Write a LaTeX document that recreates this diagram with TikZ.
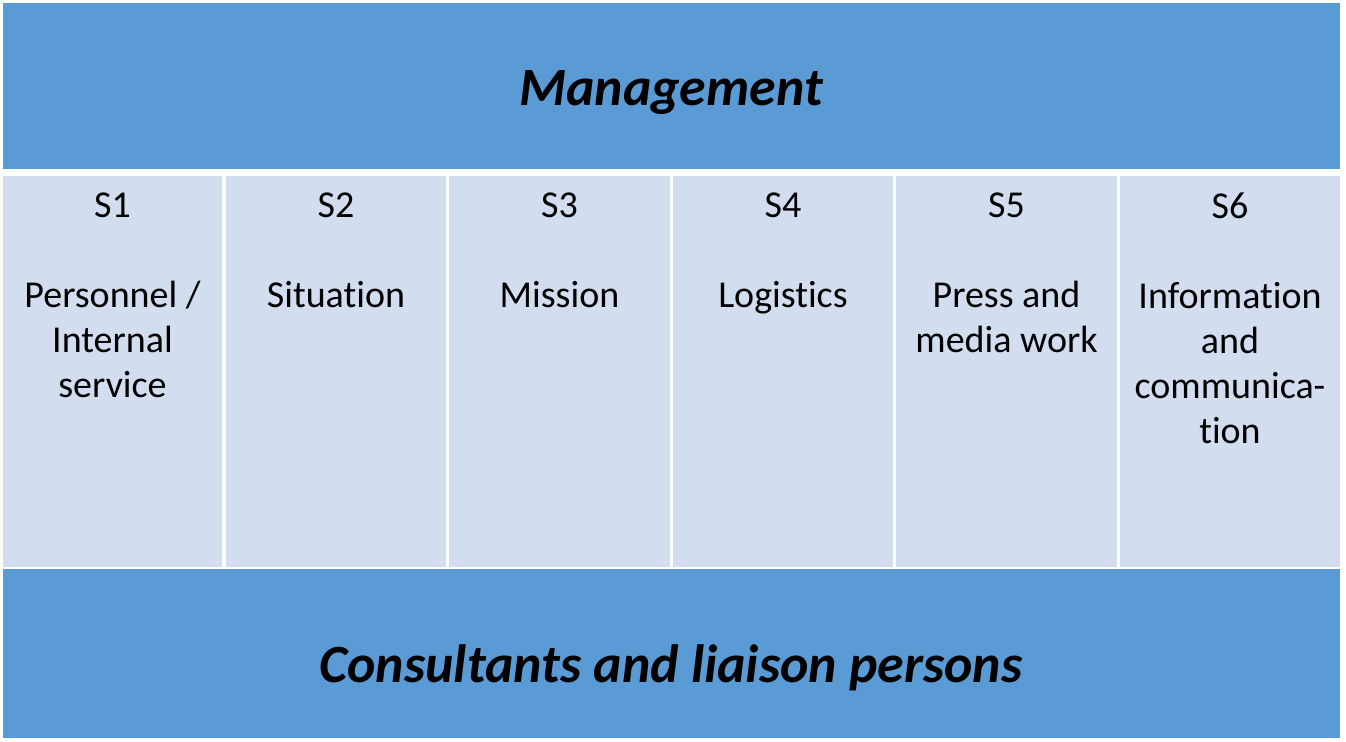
\documentclass[tikz,border=0pt]{standalone}
\usepackage{fontspec}
\setmainfont[Ligatures={NoCommon}]{Carlito}
\definecolor{bandblue}{HTML}{5B9BD5}
\definecolor{celllight}{HTML}{D2DEEF}
\begin{document}
\begin{tikzpicture}[x=0.75pt,y=-0.75pt,
  band/.style={fill=bandblue,draw=none},
  cellbox/.style={fill=celllight,draw=none},
  bandtext/.style={font=\fontsize{40.4pt}{48pt}\selectfont\bfseries\itshape,inner sep=0pt,anchor=base},
  celltext/.style={font=\fontsize{28.5pt}{33.75pt}\selectfont,align=center,inner sep=0pt,anchor=north}]
\useasboundingbox[fill=white] (0,0) rectangle (1346,742);
\fill[band] (3,3) rectangle (1340,169);
\fill[band] (3,569) rectangle (1340,738);
\foreach \l/\r in {3/222,226/446,449/670,673/893,896/1117,1120/1340}{
  \fill[cellbox] (\l,176) rectangle (\r,567);
}
\node[bandtext] (mgmt) at (671,105) {Management};
\node[bandtext] (cons) at (671,682) {Consultants and liaison persons};
\node[celltext] (s1) at (112.5,193) {S1\\[33.75pt]Personnel /\\Internal\\service};
\node[celltext] (s2) at (336,193) {S2\\[33.75pt]Situation};
\node[celltext] (s3) at (559.5,193) {S3\\[33.75pt]Mission};
\node[celltext] (s4) at (783,193) {S4\\[33.75pt]Logistics};
\node[celltext] (s5) at (1006.5,193) {S5\\[33.75pt]Press and\\media work};
\node[celltext] (s6) at (1230,193) {S6\\[33.75pt]Information\\and\\communica-\\tion};
\end{tikzpicture}
\end{document}
